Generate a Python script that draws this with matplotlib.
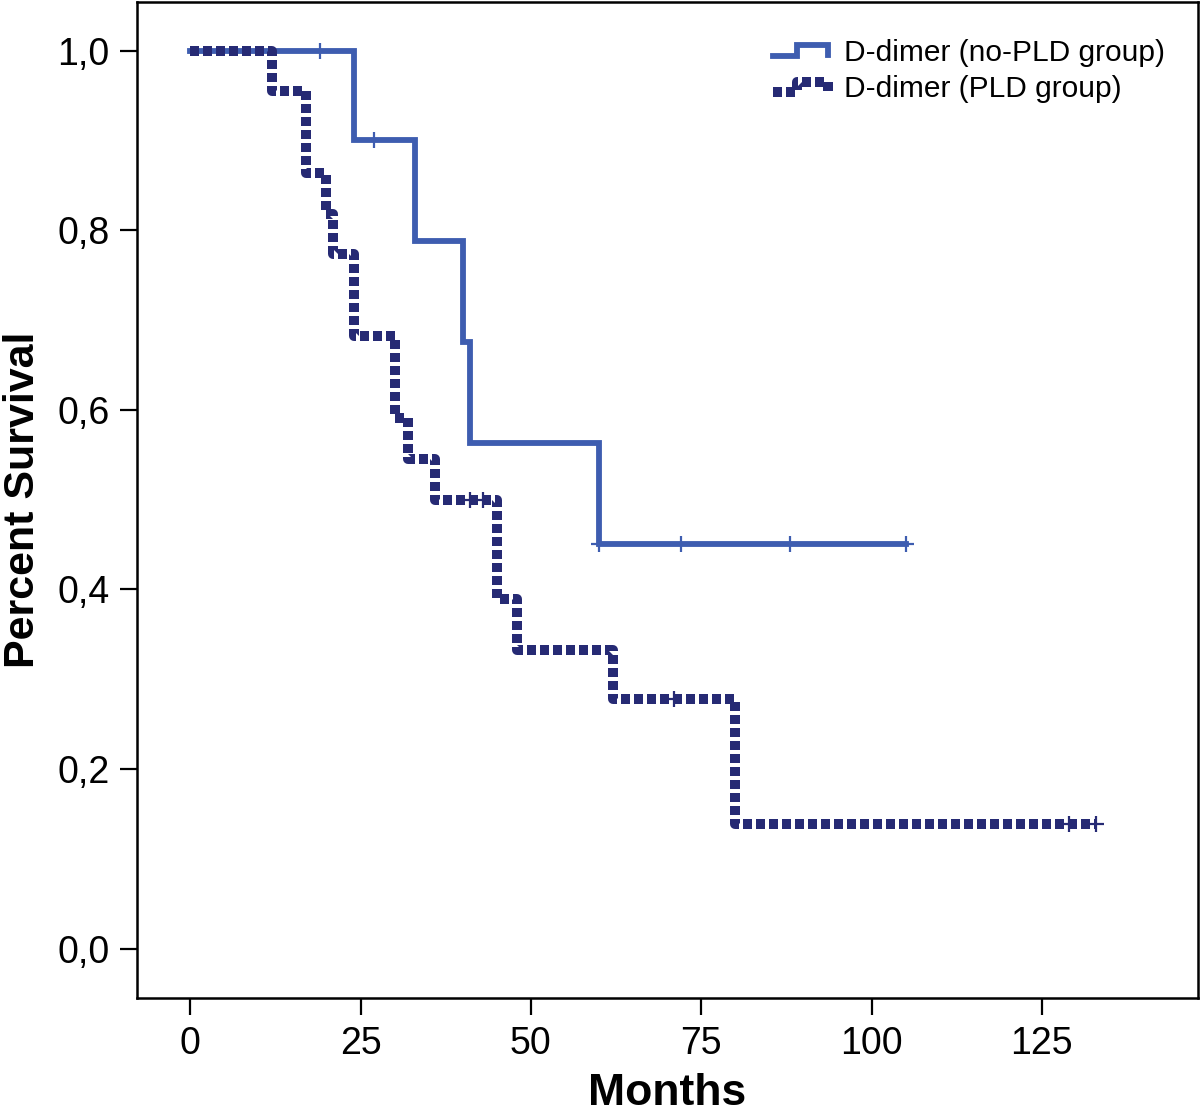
import numpy as np
import matplotlib
matplotlib.use('Agg')
import matplotlib.pyplot as plt
from matplotlib.lines import Line2D
from matplotlib.legend_handler import HandlerBase

plt.rcParams['font.family'] = ['Liberation Sans', 'DejaVu Sans']

# Kaplan-Meier steps (months, survival)
nopld_t = [0, 24, 33, 40, 41, 60, 105]
nopld_s = [1.0, 0.9, 0.7875, 0.675, 0.5625, 0.45, 0.45]
nopld_cens_t = [19, 27, 60, 72, 88, 105]
nopld_cens_s = [1.0, 0.9, 0.45, 0.45, 0.45, 0.45]

pld_t = [0, 12, 17, 20, 21, 24, 30, 32, 36, 45, 48, 62, 80, 133]
pld_s = [1.0, 0.955, 0.864, 0.818, 0.773, 0.682, 0.591, 0.545, 0.5,
         0.389, 0.333, 0.278, 0.139, 0.139]
pld_cens_t = [41, 43, 71, 129, 133]
pld_cens_s = [0.5, 0.5, 0.278, 0.139, 0.139]

labels = ['D-dimer (no-PLD group)', 'D-dimer (PLD group)']
xticks = [0, 25, 50, 75, 100, 125]
yticks = [0.0, 0.2, 0.4, 0.6, 0.8, 1.0]
yticklabels = ['0,0', '0,2', '0,4', '0,6', '0,8', '1,0']

c_solid = '#3e5db0'
c_dot = '#262a74'
dots = (0, (0.9, 0.4))


class StepHandler(HandlerBase):
    # little step shape like the SPSS legend
    def create_artists(self, legend, orig_handle, xdescent, ydescent,
                       width, height, fontsize, trans):
        xs = np.array([0, 0.45, 0.45, 1, 1]) * width - xdescent
        ys = np.array([0.25, 0.25, 0.75, 0.75, 0.3]) * height - ydescent
        line = Line2D(xs, ys)
        self.update_prop(line, orig_handle, legend)
        line.set_transform(trans)
        return [line]


fig = plt.figure(figsize=(12, 11.15), dpi=100)
ax = fig.add_axes([0.1142, 0.1049, 0.8841, 0.8933])

h1, = ax.step(nopld_t, nopld_s, where='post', color=c_solid, lw=4.2,
              solid_joinstyle='miter')
ax.plot(nopld_cens_t, nopld_cens_s, ls='none', marker='+', ms=12,
        mew=1.6, color=c_solid)
h2, = ax.step(pld_t, pld_s, where='post', color=c_dot, lw=7.2,
              ls=dots)
ax.plot(pld_cens_t, pld_cens_s, ls='none', marker='+', ms=12,
        mew=1.6, color=c_dot)

ax.set_xlim(-7.8, 147.9)
ax.set_ylim(-0.055, 1.054)
ax.set_xticks(xticks)
ax.set_yticks(yticks)
ax.set_yticklabels(yticklabels)
ax.tick_params(axis='both', labelsize=27, length=12, width=1.6,
               direction='out', pad=8)
for s in ax.spines.values():
    s.set_linewidth(1.8)

ax.set_xlabel('Months', fontsize=32, fontweight='bold', labelpad=8)
ax.set_ylabel('Percent Survival', fontsize=31, fontweight='bold', labelpad=10)

ax.legend([h1, h2], labels, loc='upper left', bbox_to_anchor=(0.599, 0.963),
          frameon=False, fontsize=21.5, borderpad=0, borderaxespad=0,
          handlelength=1.85, handletextpad=0.55, labelspacing=0.28,
          handler_map={Line2D: StepHandler()})

fig.savefig('out.png', dpi=100)
